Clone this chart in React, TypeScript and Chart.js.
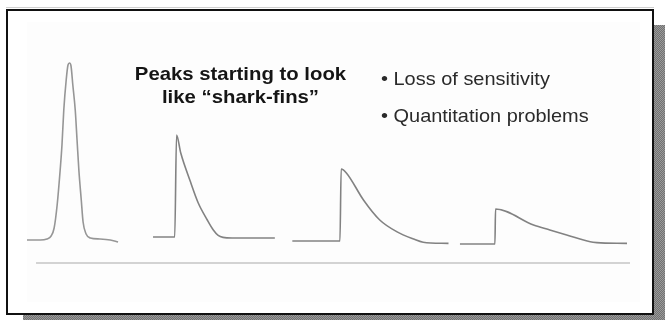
import React, { useEffect, useRef } from "react";
import { Chart, registerables } from "chart.js";

Chart.register(...registerables);

// time axis (arbitrary units 0..100) and signal (0..100)
const peak1Time = [0, 2.2, 3.3, 4.0, 4.5, 5.0, 5.5, 5.8, 6.1, 6.5, 6.8, 7.05, 7.3, 7.6, 8.0, 8.3, 8.6, 9.0, 9.3, 9.8, 10.5, 12.1, 13.8, 15.1];
const peak1Signal = [11.5, 11.5, 12, 13.5, 17.5, 29, 46.5, 59, 76.5, 91.5, 99, 100, 98.5, 89, 76.5, 61.5, 46.5, 31.5, 20.5, 14.5, 12.5, 12, 11.5, 10.5];

const peak2Time = [20.9, 24.5, 24.8, 25.5, 27.0, 28.4, 29.9, 30.9, 31.7, 32.5, 34.0, 41.1];
const peak2Signal = [13, 13, 64, 55, 41.5, 30, 21.5, 16.5, 13.8, 12.8, 12.5, 12.5];

const peak3Time = [44.0, 51.9, 52.1, 53.0, 55.8, 58.5, 61.3, 64.1, 65.7, 69.9];
const peak3Signal = [11, 11, 47, 44.9, 31.5, 21.5, 15.7, 12, 10.4, 9.8];

const peak4Time = [71.8, 77.6, 77.7, 84.0, 86.7, 89.5, 93.4, 94.5, 99.5];
const peak4Signal = [9.5, 9.5, 27, 19, 16.5, 14, 10.6, 10.2, 9.8];

const axisLineTime = [1.5, 100];
const axisLineSignal = [0, 0];

const titleLines = ["Peaks starting to look", "like \u201cshark-fins\u201d"];
const bulletLines = ["\u2022 Loss of sensitivity", "\u2022 Quantitation problems"];

const toPoints = (xs: number[], ys: number[]) => xs.map((x, i) => ({ x, y: ys[i] }));

export default function App() {
  const canvasRef = useRef<HTMLCanvasElement | null>(null);

  useEffect(() => {
    if (!canvasRef.current) return;
    const peakStyle = {
      borderColor: "#828282",
      borderWidth: 1.6,
      pointRadius: 0,
      showLine: true,
      fill: false,
      cubicInterpolationMode: "monotone" as const,
    };
    const chart = new Chart(canvasRef.current, {
      type: "scatter",
      data: {
        datasets: [
          { ...peakStyle, borderColor: "#969696", data: toPoints(peak1Time, peak1Signal) },
          { ...peakStyle, data: toPoints(peak2Time, peak2Signal) },
          { ...peakStyle, data: toPoints(peak3Time, peak3Signal) },
          { ...peakStyle, data: toPoints(peak4Time, peak4Signal) },
          {
            data: toPoints(axisLineTime, axisLineSignal),
            showLine: true,
            borderColor: "#c4c4c4",
            borderWidth: 1.5,
            pointRadius: 0,
          },
        ],
      },
      options: {
        animation: false,
        responsive: false,
        devicePixelRatio: 1,
        clip: false as any,
        layout: { padding: { left: 27, right: 35, top: 63, bottom: 57 } },
        plugins: { legend: { display: false }, tooltip: { enabled: false }, title: { display: false } },
        scales: {
          x: { type: "linear", min: 0, max: 100, display: false },
          y: { type: "linear", min: 0, max: 100, display: false },
        },
      },
    });
    return () => chart.destroy();
  }, []);

  return (
    <div style={{ position: "absolute", left: 0, top: 0, width: 665, height: 320, overflow: "hidden", background: "#ffffff" }}>
      {/* hatched shadow */}
      <div
        style={{
          position: "absolute",
          left: 23,
          top: 25,
          width: 642,
          height: 295,
          background: "repeating-conic-gradient(#727272 0 25%, #9a9a9a 0 50%) 0 0 / 2px 2px",
        }}
      />
      <div style={{ position: "absolute", left: 6, top: 7, width: 648, height: 1, background: "#cfcfcf" }} />
      {/* frame */}
      <div
        style={{
          position: "absolute",
          left: 6,
          top: 9,
          width: 648,
          height: 306,
          boxSizing: "border-box",
          border: "2px solid #111",
          background: "#ffffff",
        }}
      />
      <div style={{ position: "absolute", left: 27, top: 22, width: 613, height: 280, background: "#fdfdfd" }} />
      <canvas ref={canvasRef} width={665} height={320} style={{ position: "absolute", left: 0, top: 0, width: 665, height: 320 }} />
      {titleLines.map((t, i) => (
        <div
          key={t}
          style={{
            position: "absolute",
            left: 90,
            width: 301,
            top: 64 + i * 23.3,
            textAlign: "center",
            fontFamily: "'Liberation Sans', Arial, sans-serif",
            fontWeight: "bold",
            fontSize: 19,
            lineHeight: "19px",
            color: "#151515",
            whiteSpace: "nowrap",
            transform: "scaleX(1.07)",
            transformOrigin: "center",
          }}
        >
          {t}
        </div>
      ))}
      {bulletLines.map((t, i) => (
        <div
          key={t}
          style={{
            position: "absolute",
            left: 381,
            top: 69 + i * 36.7,
            fontFamily: "'Liberation Sans', Arial, sans-serif",
            fontSize: 19,
            lineHeight: "19px",
            color: "#2a2a2a",
            whiteSpace: "nowrap",
            transform: "scaleX(1.05)",
            transformOrigin: "left",
          }}
        >
          {t}
        </div>
      ))}
    </div>
  );
}
